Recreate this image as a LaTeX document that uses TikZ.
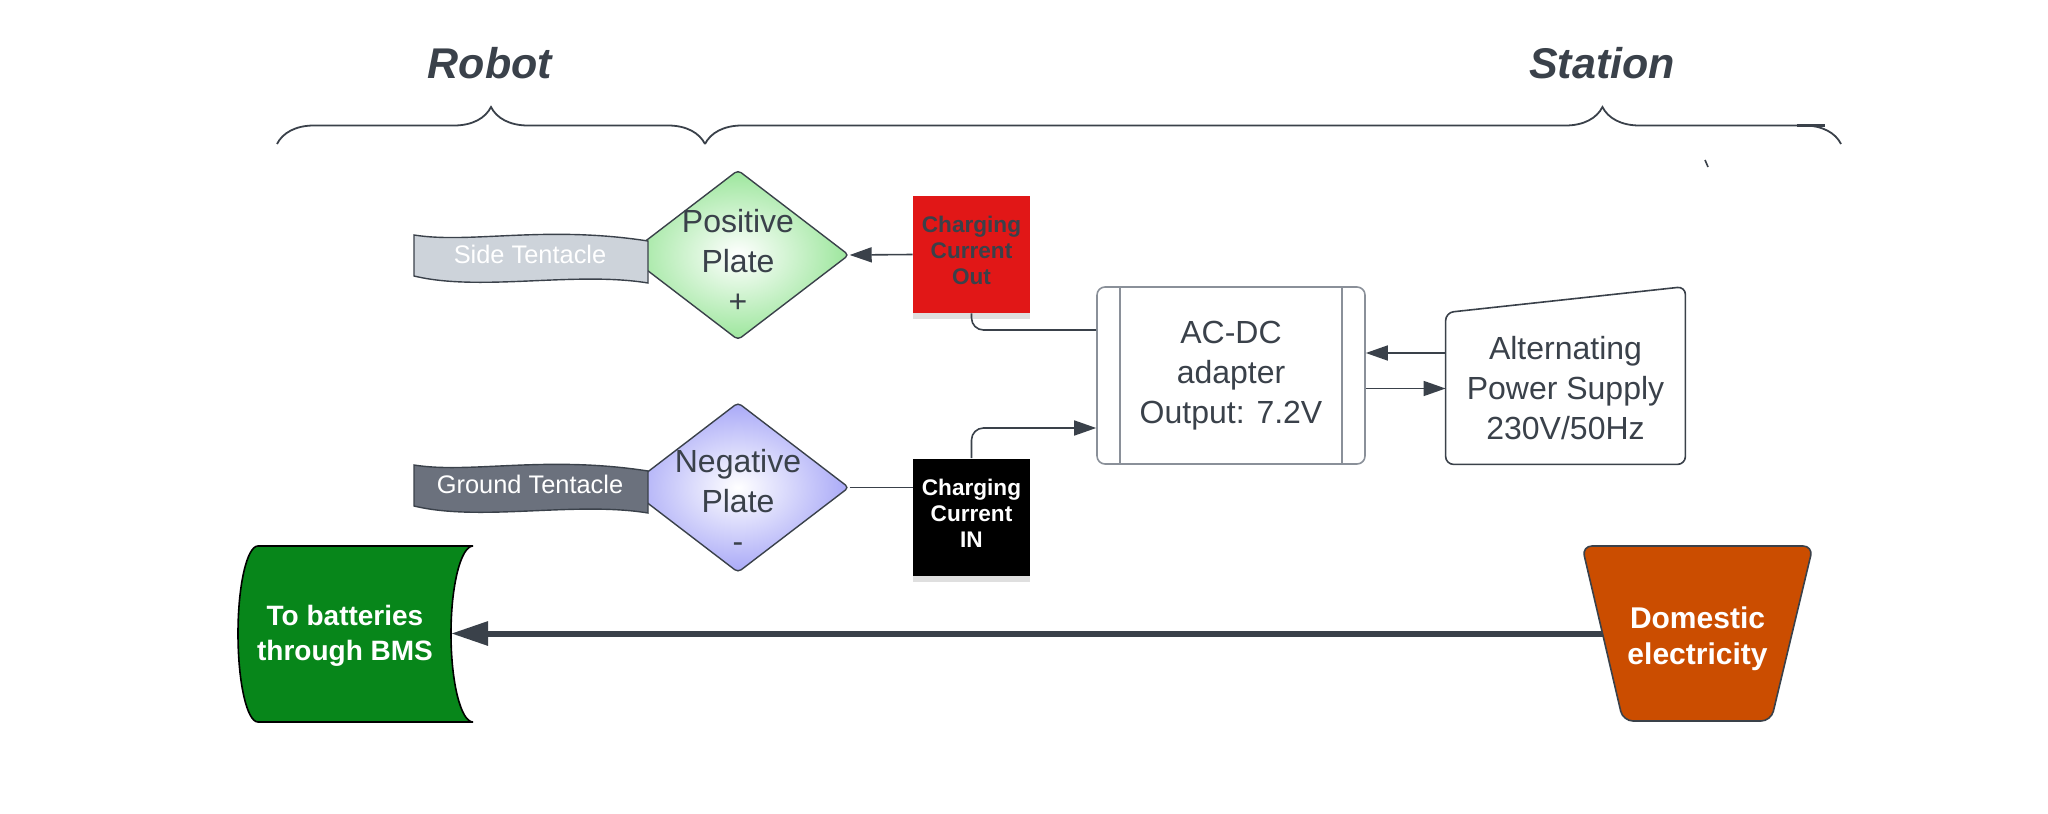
\documentclass[tikz,border=0pt]{standalone}
\usepackage{fontspec}
\setmainfont{Liberation Sans}
\usetikzlibrary{positioning, shapes.geometric, arrows.meta, decorations.pathreplacing, shadows}

\definecolor{ink}{HTML}{3A414A}
\definecolor{tagred}{HTML}{E11717}
\definecolor{platepos}{HTML}{9CE69C}
\definecolor{plateneg}{HTML}{A9A9F7}
\definecolor{sidegray}{HTML}{CDD3DA}
\definecolor{groundgray}{HTML}{6B717D}
\definecolor{adpgray}{HTML}{8A9099}
\definecolor{bmsgreen}{HTML}{07861A}
\definecolor{domorange}{HTML}{CB4D00}

\tikzset{
    plate/.style={diamond, draw=ink, line width=0.7pt, rounded corners=2pt,
        minimum width=111pt, minimum height=85pt, inner sep=0pt,
        shading=radial, inner color=white},
    platetext/.style={align=center, text=ink, font=\fontsize{16}{20}\selectfont},
    tag/.style={minimum width=58.5pt, minimum height=58.5pt, inner sep=0pt, align=center,
        font=\bfseries\fontsize{11.3}{13}\selectfont,
        drop shadow={shadow xshift=0pt, shadow yshift=-3pt, opacity=0.25}},
    tagtext/.style={align=center, font=\bfseries\fontsize{11.3}{13}\selectfont},
    wire/.style={draw=ink, line width=0.8pt},
    arr/.style={wire, -{Triangle[length=11pt, width=7.5pt]}},
    bigarr/.style={draw=ink, line width=3pt, -{Triangle[length=18.5pt, width=11.5pt]}},
    bracket/.style={draw=ink, line width=0.9pt, decorate},
    side/.style={font=\bfseries\itshape\fontsize{21.5}{24}\selectfont, text=ink}
}

\begin{document}
\begin{tikzpicture}[x=0.5pt, y=-0.5pt]
            \useasboundingbox (0,0) rectangle (2048,813);

            % robot / station
            \node[side] (robot) at (490,63) {Robot};
            \node[side] (station) at (1602,63) {Station};
            \draw[bracket, decoration={brace, amplitude=18.5pt}] (277,144) -- (705,144);
            \draw[bracket, decoration={brace, amplitude=18.5pt, aspect=0.79}] (705,144) -- (1841,144);
            \draw[ink, line width=1.8pt] (1797,125.5) -- (1825,125.5);
            \draw[ink, line width=0.8pt] (1705,160) -- (1708,167);

            % plates
            \node[plate, outer color=platepos,
                label={[platetext, yshift=-3pt]center:Positive\\Plate\\+}] (pos) at (738,255) {};
            \node[plate, outer color=plateneg,
                label={[platetext, yshift=-6.5pt]center:Negative\\Plate\\-}] (neg) at (738,487.5) {};

            % tentacles
            \foreach \dy/\col/\nm/\txt in {0/sidegray/sidet/Side Tentacle, 230/groundgray/groundt/Ground Tentacle}{%
                    \begin{scope}[shift={(0,\dy)}]
                        \draw[ink, line width=0.7pt, fill=\col] (414,235) .. controls (470,244) and (545,225) .. (648,241)
                            -- (648,283) .. controls (575,271) and (480,292) .. (414,276) -- cycle;
                        \node[text=white, font=\fontsize{12.7}{15}\selectfont] (\nm) at (530,254) {\txt};
                    \end{scope}
                }

            % charging current
            \node[tag, fill=tagred,
                label={[tagtext, text=ink, yshift=2pt]center:Charging\\Current\\Out}] (cout) at (971.5,254.5) {};
            \node[tag, fill=black,
                label={[tagtext, text=white, yshift=2pt]center:Charging\\Current\\IN}] (cin) at (971.5,517) {};

            % adapter and supply
            \node[draw=adpgray, line width=0.8pt, rounded corners=4pt, minimum width=134pt, minimum height=88.5pt,
                align=center, text=ink, font=\fontsize{16}{20}\selectfont] (adp) at (1231,375.5) {AC-DC\\adapter\\Output: 7.2V};
            \draw[adpgray, line width=0.8pt] ([xshift=12pt]adp.north west) -- ([xshift=12pt]adp.south west);
            \draw[adpgray, line width=0.8pt] ([xshift=-12pt]adp.north east) -- ([xshift=-12pt]adp.south east);
            \node[minimum width=119.5pt, minimum height=75.5pt, align=center, text=ink,
                font=\fontsize{16}{20}\selectfont] (aps) at (1565.5,388.5) {Alternating\\Power Supply\\230V/50Hz};
            \draw[ink, line width=0.8pt, rounded corners=4pt] (aps.south west) -- (aps.north west)
                -- ([yshift=13pt]aps.north east) -- (aps.south east) -- cycle;

            \draw[arr] (cout.west) -- (pos.east);
            \draw[wire] (neg.east) -- (neg.east -| cin.west);
            \draw[wire, rounded corners=6pt] (cout.south) |- (adp.west |- 0,330);
            \draw[arr, rounded corners=6pt] (cin.north) |- (adp.west |- 0,428);
            \draw[arr] (aps.west |- 0,353) -- (adp.east |- 0,353);
            \draw[arr] (adp.east |- aps.west) -- (aps.west);

            % batteries and mains
            \draw[black, line width=0.8pt, fill=bmsgreen] (258,546) -- (473,546)
                .. controls (461,546) and (451,585) .. (451,633.5) .. controls (451,683) and (461,722) .. (473,722)
                -- (258,722) .. controls (247,722) and (238,683) .. (238,633.5) .. controls (238,585) and (247,546) .. (258,546) -- cycle;
            \coordinate (bmsin) at (451,633.5);
            \node[align=center, text=white, font=\bfseries\fontsize{14}{17.5}\selectfont] (bms) at (345,636) {To batteries\\through BMS};

            \coordinate (domout) at (1605,633.5);
            \draw[bigarr] (domout) -- (bmsin);
            \draw[ink, line width=0.8pt, fill=domorange, rounded corners=5pt]
                (1582,546) -- (1813,546) -- (1771,721) -- (1623,721) -- cycle;
            \node[align=center, text=white, font=\bfseries\fontsize{15}{18}\selectfont] (dom) at (1697.5,638.5) {Domestic\\electricity};
        \end{tikzpicture}
\end{document}
